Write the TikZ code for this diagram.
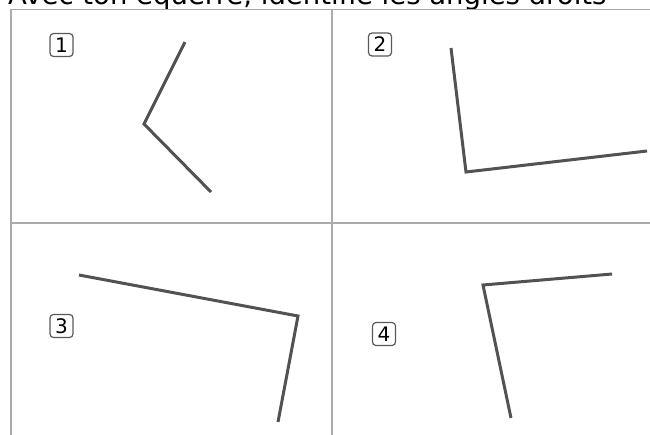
\documentclass[tikz,border=0pt]{standalone}
\usepackage{fontspec}
\setmainfont{DejaVu Sans}
\begin{document}
\begin{tikzpicture}[
   x=1pt,y=-1pt,
   grid/.style={draw=black!33,line width=1.5pt},
   arm/.style={draw=black!68,line width=3pt},
   num/.style={draw=black!65,line width=1.2pt,rounded corners=3.5pt,minimum size=23pt,inner sep=0pt,font=\fontsize{20}{20}\selectfont},
   consigne/.style={anchor=base west,inner sep=0pt,font=\fontsize{27.5}{27.5}\selectfont}]
\useasboundingbox (0,0) rectangle (650,434);
\clip (0,0) rectangle (650,434);
\node[consigne] (titre) at (8,4) {Avec ton équerre, identifie les angles droits};
% grille
\draw[grid] (11,9.5) rectangle (653,437);
\draw[grid] (332,9.5) -- (332,437);
\draw[grid] (11,223) -- (653,223);
% numeros
\node[num] (n1) at (61.5,45) {1};
\node[num] (n2) at (380,44.5) {2};
\node[num] (n3) at (61.5,326) {3};
\node[num] (n4) at (384,334) {4};
% angles
\coordinate (a1) at (185,42);  \coordinate (o1) at (144,124); \coordinate (b1) at (211,192);
\coordinate (a2) at (451,48);  \coordinate (o2) at (466,172); \coordinate (b2) at (647,151);
\coordinate (a3) at (79,275);  \coordinate (o3) at (298,316); \coordinate (b3) at (278,422);
\coordinate (a4) at (612,274); \coordinate (o4) at (483,285); \coordinate (b4) at (511,418);
\draw[arm] (a1) -- (o1) -- (b1);
\draw[arm] (a2) -- (o2) -- (b2);
\draw[arm] (a3) -- (o3) -- (b3);
\draw[arm] (a4) -- (o4) -- (b4);
\end{tikzpicture}
\end{document}
